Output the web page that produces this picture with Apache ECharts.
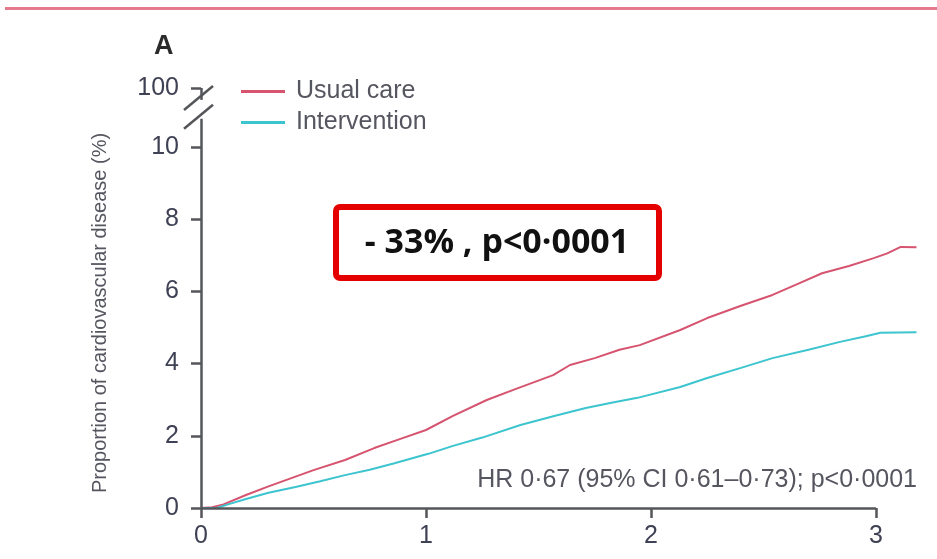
<!DOCTYPE html>
<html>
<head>
<meta charset="utf-8">
<script src="https://cdn.jsdelivr.net/npm/echarts@6/dist/echarts.min.js"></script>
<style>
html,body{margin:0;padding:0;background:#fff;}
#chart{width:937px;height:559px;}
</style>
</head>
<body>
<div id="chart"></div>
<script>
// ---- data ----
const usualYears = [0, 0.05, 0.1, 0.2, 0.3, 0.42, 0.5, 0.64, 0.77, 0.88, 1.0, 1.12, 1.27, 1.4, 1.565, 1.64, 1.75, 1.86, 1.95, 2.13, 2.25, 2.4, 2.54, 2.65, 2.76, 2.88, 2.99, 3.05, 3.11, 3.18];
const usualPct   = [0, 0.02, 0.1, 0.36, 0.6, 0.87, 1.05, 1.33, 1.66, 1.9, 2.16, 2.55, 2.99, 3.3, 3.68, 3.96, 4.15, 4.38, 4.51, 4.93, 5.26, 5.6, 5.9, 6.2, 6.5, 6.7, 6.92, 7.05, 7.23, 7.22];
const interYears = [0, 0.07, 0.12, 0.2, 0.3, 0.42, 0.53, 0.64, 0.75, 0.86, 1.01, 1.12, 1.25, 1.42, 1.57, 1.71, 1.83, 1.94, 2.13, 2.25, 2.4, 2.54, 2.7, 2.84, 2.95, 3.02, 3.1, 3.18];
const interPct   = [0, 0.0, 0.1, 0.25, 0.42, 0.58, 0.74, 0.91, 1.06, 1.24, 1.5, 1.72, 1.95, 2.3, 2.55, 2.77, 2.92, 3.05, 3.35, 3.6, 3.88, 4.15, 4.38, 4.6, 4.75, 4.85, 4.86, 4.87];
const seriesNames = ['Usual care', 'Intervention'];
const xTicks = [0, 1, 2, 3];
const yTicks = [0, 2, 4, 6, 8, 10];
const yTopTickValue = 11.63;      // position on the broken axis standing for 100
const yTopTickLabel = '100';
const yBreakLow = 10.78;          // axis line stops here (break)
const yBreakHigh = 11.3;          // axis line resumes here
const xMax = 3.2;
const yAxisTitle = 'Proportion of cardiovascular disease (%)';
const panelLabel = 'A';
const hrText = 'HR 0·67 (95% CI 0·61–0·73); p<0·0001';
const boxText = '- 33% , p<0·0001';

const axisColor = '#55565a';
const labelColor = '#3f4154';
const redColor = '#d6546f';
const cyanColor = '#3cc4cf';
const font = "'Liberation Sans', Arial, sans-serif";

const chart = echarts.init(document.getElementById('chart'));
const yLabelValues = yTicks.concat([yTopTickValue]);

chart.setOption({
  animation: false,
  backgroundColor: '#fff',
  grid: { left: 201, right: 16, top: 88, bottom: 51, containLabel: false },
  legend: {
    orient: 'vertical', left: 236, top: 74,
    itemWidth: 44, itemHeight: 3, itemGap: 6, icon: 'rect',
    textStyle: { fontFamily: font, fontSize: 25, color: '#55565f', padding: [0, 0, 0, 6], lineHeight: 24 },
    data: seriesNames
  },
  xAxis: {
    type: 'value', min: 0, max: xMax,
    axisLine: { show: false },
    splitLine: { show: false },
    axisTick: { show: true, customValues: xTicks, length: 10, lineStyle: { color: axisColor, width: 2.5 } },
    axisLabel: { customValues: xTicks, margin: 16, fontFamily: font, fontSize: 25, color: labelColor }
  },
  yAxis: {
    type: 'value', min: 0, max: yTopTickValue,
    axisLine: { show: false },
    splitLine: { show: false },
    axisTick: { show: true, customValues: yLabelValues, length: 10, lineStyle: { color: axisColor, width: 2.5 } },
    axisLabel: {
      customValues: yLabelValues, margin: 22, fontFamily: font, fontSize: 25, color: labelColor,
      formatter: v => (Math.abs(v - yTopTickValue) < 1e-6 ? yTopTickLabel : String(v))
    }
  },
  series: [
    {
      name: seriesNames[0], type: 'line', showSymbol: false, symbol: 'none',
      data: usualYears.map((t, i) => [t, usualPct[i]]),
      lineStyle: { color: redColor, width: 2 }, itemStyle: { color: redColor },
      markLine: {
        silent: true, symbol: 'none', label: { show: false },
        lineStyle: { color: axisColor, width: 2.5, type: 'solid' },
        emphasis: { disabled: true },
        data: [
          [{ coord: [0, 0] }, { coord: [xTicks[xTicks.length - 1], 0] }],
          [{ coord: [0, 0] }, { coord: [0, yBreakLow] }],
          [{ coord: [0, yBreakHigh] }, { coord: [0, yTopTickValue] }]
        ]
      }
    },
    {
      name: seriesNames[1], type: 'line', showSymbol: false, symbol: 'none',
      data: interYears.map((t, i) => [t, interPct[i]]),
      lineStyle: { color: cyanColor, width: 2 }, itemStyle: { color: cyanColor }
    }
  ]
});

// decorations positioned from the axes
const pLow = chart.convertToPixel({ gridIndex: 0 }, [0, yBreakLow]);
const pHigh = chart.convertToPixel({ gridIndex: 0 }, [0, yBreakHigh]);
const pZero = chart.convertToPixel({ gridIndex: 0 }, [0, 0]);
const pRight = chart.convertToPixel({ gridIndex: 0 }, [xMax, 0]);

chart.setOption({
  graphic: [
    { type: 'rect', shape: { x: 5, y: 7, width: 932, height: 3 }, style: { fill: '#e47a8c' }, silent: true },
    { type: 'text', left: 154, top: 33, style: { text: panelLabel, font: "bold 27px " + font, fill: '#2b2b2b' } },
    { type: 'line', shape: { x1: pLow[0] - 17, y1: pLow[1] + 10, x2: pLow[0] + 12, y2: pLow[1] - 14 }, style: { stroke: axisColor, lineWidth: 2.5 } },
    { type: 'line', shape: { x1: pHigh[0] - 17, y1: pHigh[1] + 10, x2: pHigh[0] + 12, y2: pHigh[1] - 14 }, style: { stroke: axisColor, lineWidth: 2.5 } },
    { type: 'text', x: 100, y: 313, rotation: Math.PI / 2,
      style: { text: yAxisTitle, font: "20px " + font, fill: '#55565f', align: 'center', verticalAlign: 'middle' } },
    { type: 'text', x: pRight[0] - 4, y: pZero[1] - 28,
      style: { text: hrText, font: "25px " + font, fill: '#55565f', align: 'right', verticalAlign: 'middle' } },
    { type: 'rect', shape: { x: 336, y: 207, width: 323, height: 71, r: 4 },
      style: { fill: '#fff', stroke: '#e50000', lineWidth: 6 } },
    { type: 'text', x: 497, y: 243,
      style: { text: boxText, font: "bold 34px 'Open Sans', sans-serif", fill: '#111', align: 'center', verticalAlign: 'middle' } }
  ]
});
</script>
</body>
</html>
